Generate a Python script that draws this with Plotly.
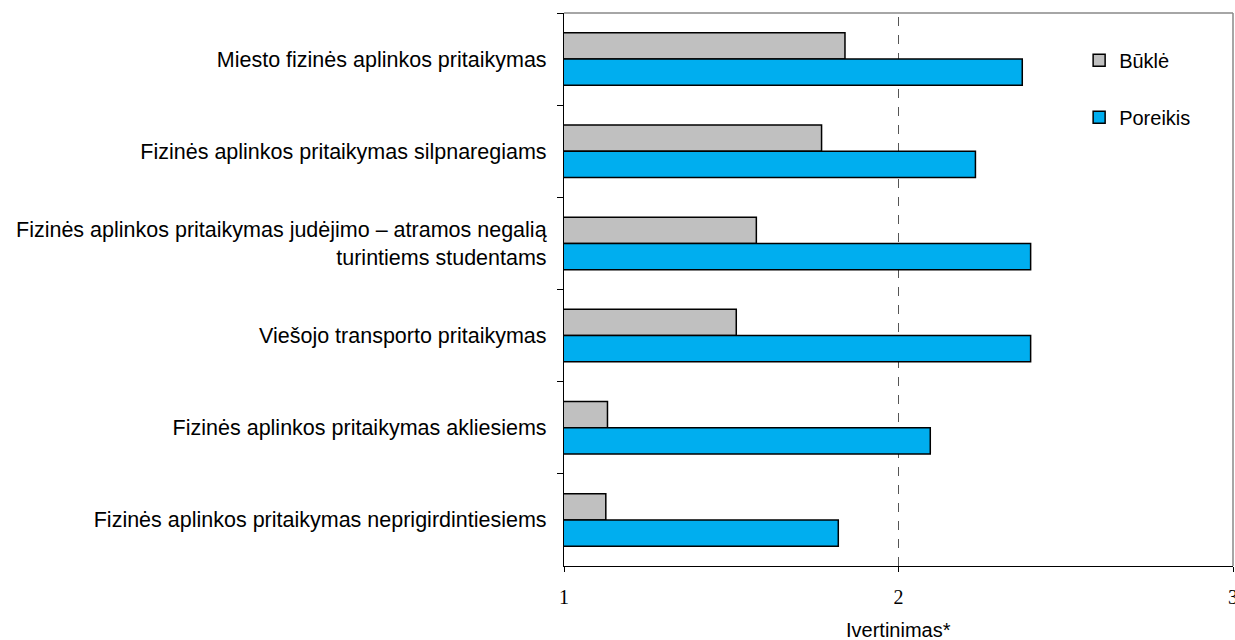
import plotly.graph_objects as go

categories = [
    "Miesto fizinės aplinkos pritaikymas",
    "Fizinės aplinkos pritaikymas silpnaregiams",
    "Fizinės aplinkos pritaikymas judėjimo – atramos negalią<br>turintiems studentams",
    "Viešojo transporto pritaikymas",
    "Fizinės aplinkos pritaikymas akliesiems",
    "Fizinės aplinkos pritaikymas neprigirdintiesiems",
]
bukle = [1.84, 1.77, 1.575, 1.515, 1.13, 1.125]
poreikis = [2.37, 2.23, 2.395, 2.395, 2.095, 1.82]
x_ticks = [1, 2, 3]
x_title = "Ivertinimas*"

SANS = "Liberation Sans, Arial, sans-serif"
SERIF = "Liberation Serif, Times New Roman, serif"

fig = go.Figure()
fig.add_trace(go.Bar(
    y=categories, x=bukle, orientation="h", name="Būklė",
    marker=dict(color="#C0C0C0", line=dict(color="#000000", width=1.5)),
    legendgroup="a",
))
fig.add_trace(go.Bar(
    y=categories, x=poreikis, orientation="h", name="Poreikis",
    marker=dict(color="#00AEEF", line=dict(color="#000000", width=1.5)),
    legendgroup="b",
))

fig.update_layout(
    width=1235, height=640,
    margin=dict(l=564, r=2, t=13, b=74),
    paper_bgcolor="white", plot_bgcolor="white",
    barmode="group", bargap=0.43, bargroupgap=0,
    font=dict(family=SANS, size=20, color="#000000"),
    legend=dict(
        x=0.77, y=0.95, xanchor="left", yanchor="top",
        bgcolor="rgba(0,0,0,0)", tracegroupgap=28,
        font=dict(family=SANS, size=20, color="#000000"),
        traceorder="grouped",
    ),
    xaxis=dict(
        range=[1, 3], tickvals=x_ticks, ticktext=[str(v) for v in x_ticks],
        showgrid=False, zeroline=False, automargin=False,
        showline=True, linecolor="#000000", linewidth=1.2,
        ticks="outside", ticklen=5, tickcolor="#000000",
        ticklabelstandoff=8, ticklabeloverflow="allow",
        tickfont=dict(family=SERIF, size=20, color="#000000"),
    ),
    yaxis=dict(
        autorange="reversed", showgrid=False, zeroline=False, automargin=False,
        showline=True, linecolor="#000000", linewidth=1.2,
        ticks="outside", ticklen=6, tickcolor="#000000", tickson="boundaries",
        ticklabelstandoff=12,
        tickfont=dict(family=SANS, size=21.5, color="#000000"),
    ),
)

fig.add_annotation(
    text=x_title, xref="x", yref="paper", x=2, y=0, yshift=-64,
    xanchor="center", yanchor="middle", showarrow=False,
    font=dict(family=SANS, size=20, color="#000000"),
)

# dashed reference line at 2
fig.add_shape(type="line", xref="x", yref="paper", x0=2, x1=2, y0=0, y1=1,
              line=dict(color="#555555", width=1, dash="dash"), layer="below")
# gray top and right frame
fig.add_shape(type="line", xref="paper", yref="paper", x0=0, x1=1, y0=1, y1=1,
              line=dict(color="#888888", width=1.5))
fig.add_shape(type="line", xref="paper", yref="paper", x0=1, x1=1, y0=0, y1=1,
              line=dict(color="#888888", width=1.5))

fig.write_html("out.html", config={"displayModeBar": False},
               post_script="document.body.style.margin='0';")
